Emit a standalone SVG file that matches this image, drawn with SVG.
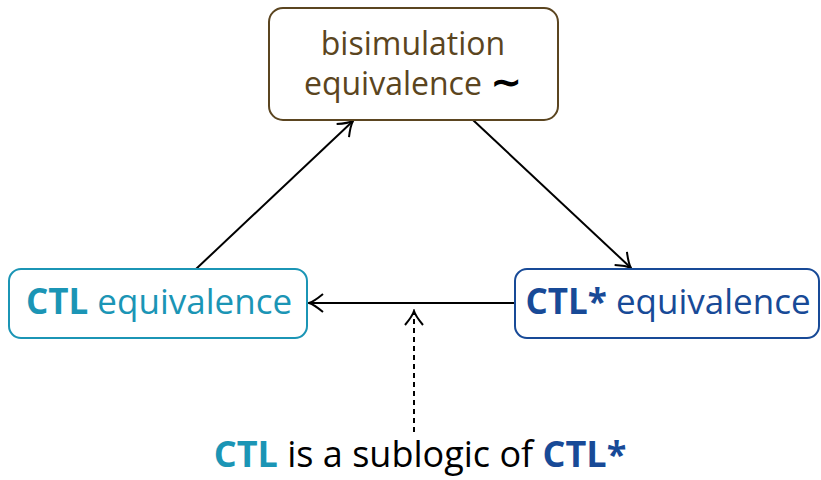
<svg xmlns="http://www.w3.org/2000/svg" width="821" height="480" viewBox="0 0 821 480">
<style>
text{font-family:"Open Sans","DejaVu Sans",sans-serif;text-anchor:middle}
.box{fill:#fff;stroke-width:2}
.conn{stroke:#000;stroke-width:2;fill:none}
.bis{fill:#5b4520}
.ctl{fill:#1b95b5}
.ctls{fill:#184a97}
</style>
<defs>
<marker id="ah" viewBox="-15 -10 17 20" markerWidth="17" markerHeight="20" refX="0" refY="0" orient="auto" markerUnits="userSpaceOnUse">
<path d="M-14,-9 Q-5,-1.5 0,0 Q-5,1.5 -14,9" fill="none" stroke="#000" stroke-width="2"/>
</marker>
</defs>
<g id="connectors">
<line class="conn" x1="196" y1="269" x2="353" y2="121" marker-end="url(#ah)"/>
<line class="conn" x1="473" y1="120" x2="631" y2="268" marker-end="url(#ah)"/>
<line class="conn" x1="515" y1="303" x2="309" y2="303" marker-end="url(#ah)"/>
<line class="conn" x1="414" y1="432" x2="414" y2="311" stroke-dasharray="5,4" marker-end="url(#ah)"/>
</g>
<g id="bisim">
<rect class="box" x="269" y="8" width="289" height="112" rx="14" stroke="#5b4520"/>
<text x="413" y="55" font-size="32" class="bis">bisimulation</text>
<text x="413" y="95" font-size="32"><tspan class="bis">equivalence</tspan> <tspan fill="#000" font-family="DejaVu Sans" font-size="38" font-weight="bold">∼</tspan></text>
</g>
<g id="ctl">
<rect class="box" x="9" y="269" width="298" height="69" rx="12" stroke="#1b95b5"/>
<text x="159" y="314" font-size="35" class="ctl"><tspan font-weight="bold">CTL</tspan> equivalence</text>
</g>
<g id="ctlstar">
<rect class="box" x="515" y="269" width="304" height="69" rx="12" stroke="#184a97"/>
<text x="668" y="314" font-size="35" class="ctls"><tspan font-weight="bold">CTL*</tspan> equivalence</text>
</g>
<g id="note">
<text x="420" y="467" font-size="36"><tspan class="ctl" font-weight="bold">CTL</tspan> is a sublogic of <tspan class="ctls" font-weight="bold">CTL*</tspan></text>
</g>
</svg>
